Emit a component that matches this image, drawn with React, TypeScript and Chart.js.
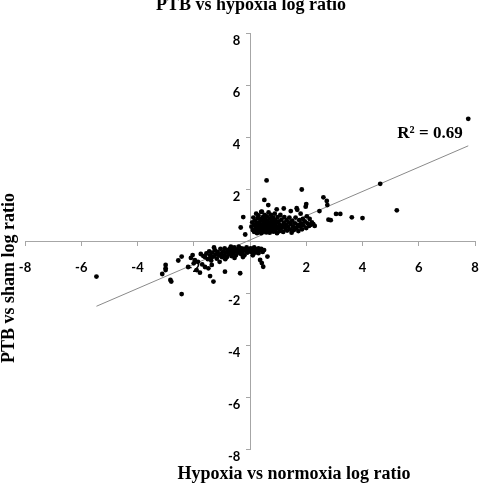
import React, { useEffect, useRef } from 'react';
import { Chart, registerables } from 'chart.js';

Chart.register(...registerables);

// Hypoxia vs normoxia (x) / PTB vs sham (y) log ratios
const positiveCluster: [number, number][] = [
  [0.05, 0.55], [0.08, 0.72], [0.1, 0.42], [0.12, 0.9], [0.14, 0.62], [0.15, 0.35], [0.18, 0.78], [0.2, 0.5],
  [0.22, 1.05], [0.24, 0.66], [0.25, 0.3], [0.27, 0.88], [0.28, 0.45], [0.3, 0.58], [0.3, 0.98],
  [0.32, 0.72], [0.33, 0.38], [0.35, 0.52], [0.36, 0.85], [0.38, 0.64], [0.4, 0.3], [0.4, 1.12], [0.42, 0.47],
  [0.43, 0.78], [0.45, 0.6], [0.46, 0.92], [0.48, 0.36], [0.5, 0.7], [0.5, 0.52], [0.52, 1.0], [0.53, 0.42],
  [0.55, 0.82], [0.56, 0.6], [0.58, 0.33], [0.58, 0.7], [0.6, 0.95], [0.6, 0.5],
  [0.62, 0.78], [0.63, 0.4], [0.65, 0.62], [0.66, 1.1], [0.68, 0.5], [0.7, 0.86], [0.7, 0.32], [0.72, 0.7],
  [0.74, 0.55], [0.75, 1.0], [0.77, 0.42], [0.78, 0.78], [0.8, 0.6], [0.82, 0.9], [0.83, 0.36], [0.85, 0.68],
  [0.86, 0.5], [0.88, 1.05], [0.9, 0.8], [0.9, 0.4], [0.92, 0.6], [0.95, 0.72], [0.96, 0.3], [0.98, 0.92], [1.0, 0.5],
  [1.02, 0.75], [1.05, 0.38], [1.06, 0.62], [1.08, 1.0], [1.1, 0.48], [1.12, 0.82], [1.15, 0.58], [1.18, 0.35],
  [1.2, 0.7], [1.22, 0.92], [1.25, 0.5], [1.28, 0.62], [1.3, 0.8], [1.32, 0.4], [1.35, 0.55], [1.38, 0.72],
  [1.4, 0.9], [1.42, 0.45], [1.45, 0.65], [1.48, 0.32],
  [1.5, 0.78], [1.53, 0.55], [1.56, 0.42], [1.6, 0.68], [1.62, 0.9], [1.65, 0.5], [1.68, 1.2], [1.7, 0.62],
  [1.72, 0.38], [1.75, 0.8], [1.78, 0.55], [1.8, 1.05], [1.82, 0.68], [1.85, 0.45], [1.88, 0.85], [1.9, 0.6],
  [1.95, 0.75], [2.0, 0.5], [2.02, 0.95], [2.05, 0.68], [2.1, 0.58], [2.15, 0.62], [2.2, 0.72], [2.25, 0.65],
];

const positiveOutliers: [number, number][] = [
  [0.59, 2.33], [1.84, 1.98], [4.63, 2.2], [5.22, 1.18], [4.0, 0.88], [3.62, 0.91], [3.21, 1.04], [3.06, 1.04],
  [2.79, 0.82], [2.87, 0.8], [2.73, 1.54], [2.75, 1.38], [2.61, 1.68], [2.47, 1.15], [2.0, 1.42], [1.98, 1.32],
  [1.66, 1.26], [0.51, 1.58], [0.65, 1.38], [0.95, 1.22], [0.42, 1.13], [-0.24, 0.92], [-0.33, 0.52],
  [-0.17, 0.25], [7.76, 4.7], [1.2, 1.25], [1.45, 1.15], [2.12, 0.85], [2.3, 0.58],
];

const negativeCluster: [number, number][] = [
  [-1.6, -0.62], [-1.55, -0.48], [-1.5, -0.7], [-1.45, -0.4], [-1.42, -0.55], [-1.38, -0.75], [-1.35, -0.45],
  [-1.3, -0.6], [-1.25, -0.35], [-1.22, -0.52], [-1.18, -0.68], [-1.15, -0.42], [-1.1, -0.56], [-1.05, -0.3],
  [-1.02, -0.48], [-1.0, -0.62], [-0.95, -0.4], [-0.92, -0.55], [-0.9, -0.28], [-0.85, -0.45], [-0.82, -0.62],
  [-0.8, -0.35], [-0.76, -0.5], [-0.72, -0.3], [-0.7, -0.42], [-0.66, -0.58], [-0.62, -0.35], [-0.6, -0.48],
  [-0.56, -0.25], [-0.52, -0.4], [-0.5, -0.55], [-0.46, -0.32], [-0.42, -0.45], [-0.4, -0.22], [-0.36, -0.38],
  [-0.32, -0.5], [-0.3, -0.28], [-0.26, -0.42], [-0.22, -0.3], [-0.2, -0.55], [-0.16, -0.36], [-0.12, -0.25],
  [-0.1, -0.45], [-0.06, -0.32], [-0.02, -0.4], [0.02, -0.28], [0.05, -0.42], [0.08, -0.3], [0.12, -0.38],
  [0.15, -0.25], [0.18, -0.45], [0.22, -0.32], [0.26, -0.4], [0.3, -0.28], [0.35, -0.36], [0.4, -0.3],
  [0.45, -0.42], [0.5, -0.35], [-0.68, -0.22], [-0.88, -0.7], [-1.08, -0.8], [-0.55, -0.65], [-0.25, -0.62],
  [0.1, -0.55], [-1.28, -0.25],
];

const negativeOutliers: [number, number][] = [
  [-5.46, -1.37], [-3.0, -0.92], [-3.0, -1.05], [-3.0, -1.12], [-3.12, -1.27], [-2.83, -1.5], [-2.8, -1.56],
  [-2.43, -0.6], [-2.43, -2.04], [-2.2, -1.0], [-2.04, -0.54], [-2.0, -0.86], [-1.9, -1.12], [-1.78, -1.22],
  [-1.75, -0.5], [-1.66, -0.58], [-1.4, -0.67], [-1.36, -0.92], [-1.42, -1.35], [-1.3, -1.56], [-1.48, -1.05],
  [-0.89, -1.18], [-0.35, -1.24], [0.36, -0.73], [0.42, -0.85], [0.47, -0.99], [0.3, -0.47], [0.62, -0.6],
  [-1.96, -0.74], [-2.1, -0.65], [-1.85, -0.8], [-2.55, -0.75], [-1.7, -0.9], [-1.6, -1.0],
];

const trendX = [-5.46, 7.76];
const trendY = [-2.51, 3.66];

const axisMin = -8;
const axisMax = 8;
const axisStep = 2;

const chartTitle = 'PTB vs hypoxia log ratio';
const xTitle = 'Hypoxia vs normoxia log ratio';
const yTitle = 'PTB vs sham log ratio';
const rSquaredLabel = 'R² = 0.69';

const textPlugin = {
  id: 'textPlugin',
  afterDraw(chart: any) {
    const ctx = chart.ctx as CanvasRenderingContext2D;
    ctx.save();
    ctx.fillStyle = '#000';
    ctx.font = 'bold 18px "Liberation Serif", "Times New Roman", serif';
    ctx.textAlign = 'center';
    ctx.textBaseline = 'alphabetic';
    ctx.fillText(chartTitle, 251, 9.5);
    ctx.fillText(xTitle, 294, 479);
    ctx.save();
    ctx.translate(14, 278);
    ctx.rotate(-Math.PI / 2);
    ctx.fillText(yTitle, 0, 0);
    ctx.restore();
    ctx.font = 'bold 17px "Liberation Serif", "Times New Roman", serif';
    ctx.fillText(rSquaredLabel, 430, 138);
    ctx.restore();
  },
};

export default function App() {
  const ref = useRef<HTMLCanvasElement>(null);
  useEffect(() => {
    const pts = [...positiveCluster, ...positiveOutliers, ...negativeCluster, ...negativeOutliers].map(([x, y]) => ({ x, y }));
    const trend = trendX.map((x, i) => ({ x, y: trendY[i] }));
    const tickFont = { family: 'Lato, "Liberation Sans", sans-serif', size: 13, weight: 'bold' as const };
    const chart = new Chart(ref.current!, {
      type: 'scatter',
      data: {
        datasets: [
          {
            type: 'line',
            data: trend,
            borderColor: '#8a8a8a',
            borderWidth: 1,
            pointRadius: 0,
            fill: false,
            order: 2,
          } as any,
          {
            data: pts,
            backgroundColor: '#000',
            borderColor: '#000',
            borderWidth: 0,
            pointRadius: 2.4,
            order: 1,
          },
        ],
      },
      options: {
        responsive: false,
        animation: false,
        layout: { padding: { left: 25, right: 24, top: 33, bottom: 38 } },
        plugins: { legend: { display: false }, tooltip: { enabled: false }, title: { display: false } },
        scales: {
          x: {
            type: 'linear',
            min: axisMin,
            max: axisMax,
            position: { y: 0 } as any,
            ticks: {
              stepSize: axisStep,
              autoSkip: false,
              maxRotation: 0,
              padding: 15,
              color: '#000',
              font: tickFont,
              callback: (v: any) => (Number(v) === 0 ? '' : String(v)),
            },
            grid: { drawOnChartArea: false, drawTicks: true, tickLength: 4, color: '#a6a6a6' },
            border: { color: '#a6a6a6', width: 1 },
          },
          y: {
            type: 'linear',
            min: axisMin,
            max: axisMax,
            position: { x: 0 } as any,
            ticks: {
              stepSize: axisStep,
              autoSkip: false,
              padding: 5,
              labelOffset: 8,
              color: '#000',
              font: tickFont,
              callback: (v: any) => (Number(v) === 0 ? '' : String(v) + '\u2002 '),
            },
            grid: { drawOnChartArea: false, drawTicks: true, tickLength: 4, color: '#a6a6a6' },
            border: { color: '#a6a6a6', width: 1 },
          },
        },
      },
      plugins: [textPlugin],
    });
    return () => chart.destroy();
  }, []);
  return (
    <div style={{ position: 'fixed', left: 0, top: 0, width: 499, height: 487, background: '#fff' }}>
      <canvas ref={ref} width={499} height={487} style={{ width: 499, height: 487, display: 'block' }} />
    </div>
  );
}
